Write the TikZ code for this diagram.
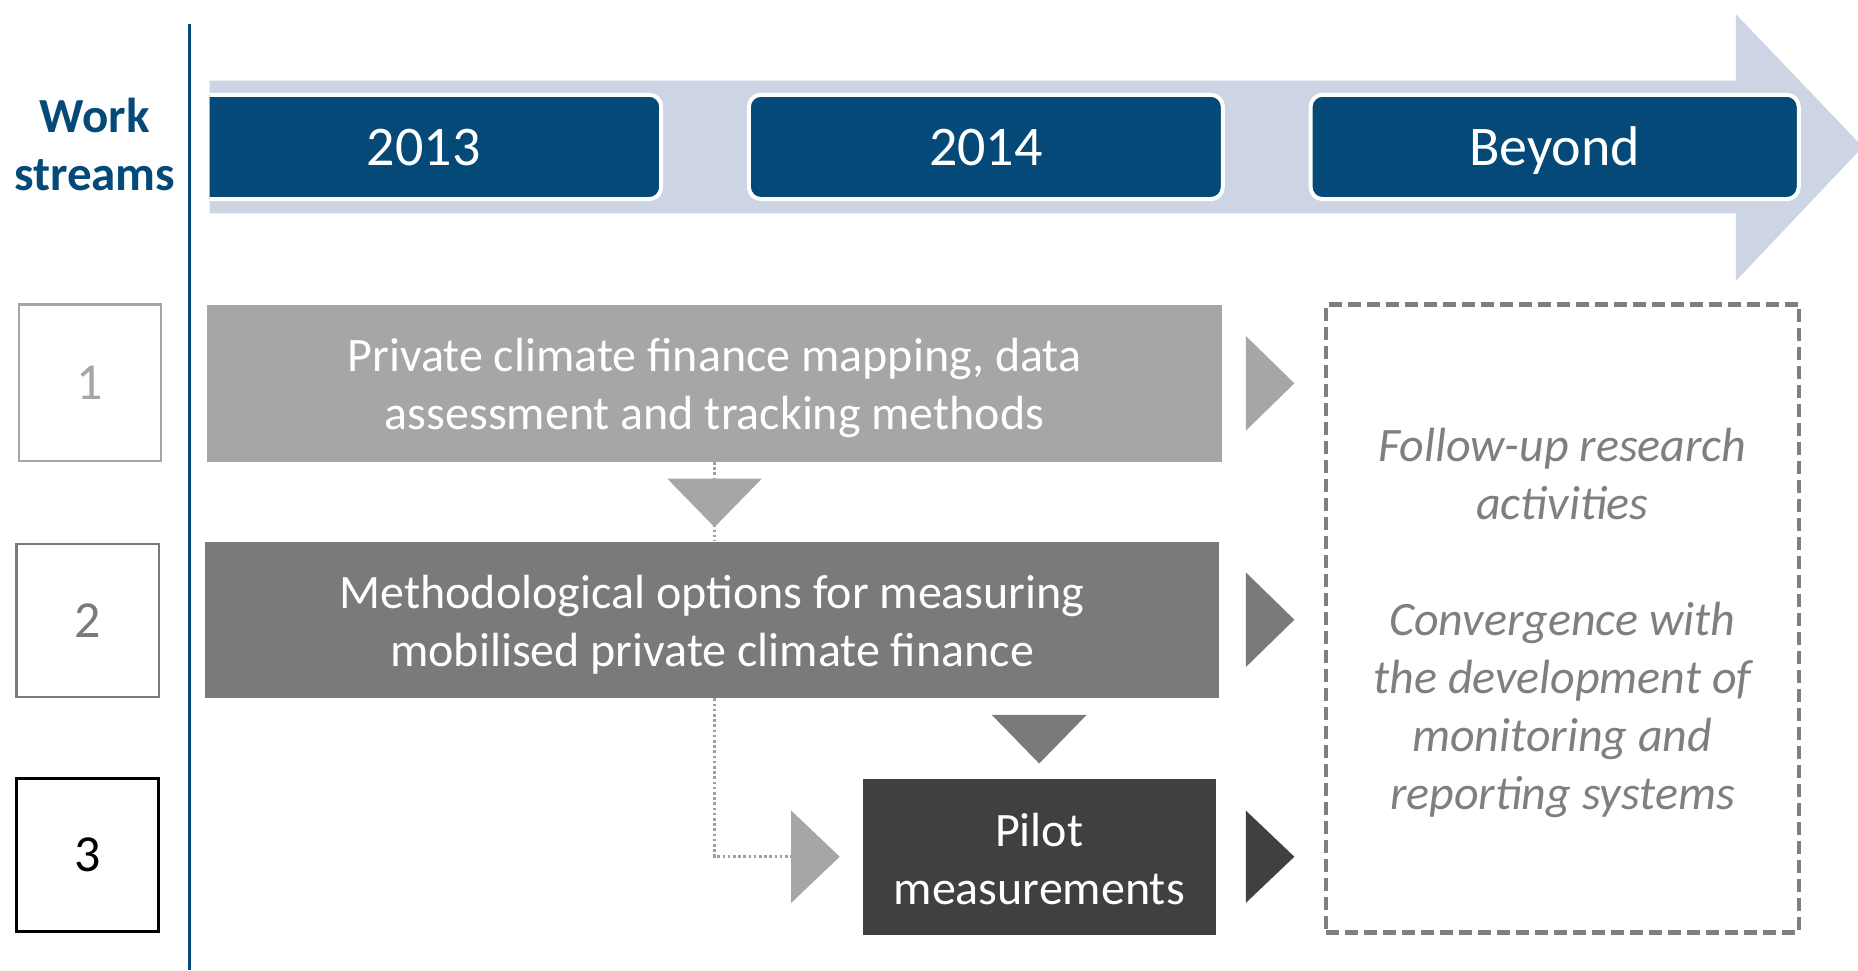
\documentclass[tikz,border=0pt]{standalone}
\usepackage{fontspec}
\setmainfont{Carlito}
\usetikzlibrary{calc}

\definecolor{navy}{RGB}{4,73,120}
\definecolor{arrowblue}{RGB}{205,213,228}
\definecolor{lightgrey}{RGB}{166,166,166}
\definecolor{midgrey}{RGB}{122,122,122}
\definecolor{darkgrey}{RGB}{64,64,64}
\definecolor{dashgrey}{RGB}{127,127,127}
\definecolor{dotgrey}{RGB}{160,160,160}

\def\U{0.5925pt}

\begin{document}
\begin{tikzpicture}[x=0.5925pt,y=-0.5925pt,
  yearbox/.style={draw=white, line width=2pt, fill=navy, rounded corners=6pt,
    inner sep=0pt, text=white, font=\fontsize{28}{34}\selectfont,
    text height=22pt, text depth=3pt, minimum height=88*\U},
  wsbox/.style={draw, line width=1.2pt, fill=white, inner sep=0pt,
    minimum width=120*\U, font=\fontsize{26}{31}\selectfont},
  bar/.style={inner sep=0pt, minimum height=132*\U},
  bartext/.style={inner sep=0pt, text=white, align=center,
    font=\fontsize{24}{29}\selectfont},
  dotline/.style={dotgrey, line width=1.3pt, dash pattern=on 1.3pt off 1.3pt},
  note/.style={draw=dashgrey, line width=2.2pt, dash pattern=on 6.5pt off 3pt,
    inner sep=0pt},
  notetext/.style={inner sep=0pt, text=dashgrey, align=center,
    font=\fontsize{24}{29}\selectfont\itshape}
]
\useasboundingbox (0,0) rectangle (1568,819);

% timeline arrow with the three periods
\begin{scope}
  \clip (177,0) rectangle (1568,819);
  \fill[arrowblue] (177,68) -- (1465,68) -- (1465,12) -- (1572,124)
    -- (1465,237) -- (1465,180) -- (177,180) -- cycle;
  \node[yearbox, minimum width=401*\U] (y13) at (357.5,124) {2013};
  \node[yearbox, minimum width=400*\U] (y14) at (832,124) {2014};
  \node[yearbox, minimum width=412*\U] (yb) at (1312,124) {Beyond};
\end{scope}

% left column
\node[text=navy, align=center, font=\fontsize{24.5}{29}\selectfont\bfseries]
  (ws) at (80,122) {Work\\streams};
\coordinate (ltop) at (160,20);
\coordinate (lbot) at (160,819);
\draw[navy, line width=1.5pt] (ltop) -- (lbot);

\node[wsbox, draw=lightgrey, text=lightgrey, minimum height=132*\U] (w1) at (76,323) {1};
\node[wsbox, draw=midgrey, text=midgrey, minimum height=129*\U] (w2) at (74,523.5) {2};
\node[wsbox, draw=black, text=black, line width=1.5pt, minimum height=129*\U] (w3) at (74,721.5) {3};

% work stream bars
\node[bar, fill=lightgrey, minimum width=856*\U] (b1) at (603,323.5) {};
\node[bar, fill=midgrey, minimum width=856*\U] (b2) at (601,523) {};
\node[bar, fill=darkgrey, minimum width=298*\U] (b3) at (877,723) {};
\node[bartext] (b1t) at ($(b1.center)+(0,4)$)
  {Private climate finance mapping, data\\assessment and tracking methods};
\node[bartext] (b2t) at ($(b2.center)+(0,4)$)
  {Methodological options for measuring\\mobilised private climate finance};
\node[bartext] (b3t) at ($(b3.center)+(0,2)$)
  {Pilot\\measurements};

% dotted links
\coordinate (t3base) at ($(b3.west)+(-60,0)$);
\draw[dotline] (b1.south) -- (b1.south |- b2.north);
\draw[dotline] (b1.south |- b2.south) -- (b1.south |- b3.west) -- (t3base);

% down-pointing triangles
\fill[lightgrey] ($(b1.south)+(-40,14)$) -- ($(b1.south)+(40,14)$)
  -- ($(b1.south)+(0,55)$) -- cycle;
\fill[midgrey] ($(b3.north |- b2.south)+(-40,14)$) -- ($(b3.north |- b2.south)+(40,14)$)
  -- ($(b3.north |- b2.south)+(0,55)$) -- cycle;

% right-pointing triangles
\fill[lightgrey] ($(t3base)+(0,-39)$) -- ($(t3base)+(41,0)$)
  -- ($(t3base)+(0,39)$) -- cycle;
\fill[lightgrey] ($(b1.east)+(20,-40)$) -- ($(b1.east)+(61,0)$)
  -- ($(b1.east)+(20,40)$) -- cycle;
\fill[midgrey] ($(b2.east)+(22,-40)$) -- ($(b2.east)+(63,0)$)
  -- ($(b2.east)+(22,40)$) -- cycle;
\fill[darkgrey] ($(b3.east)+(25,-39)$) -- ($(b3.east)+(66,0)$)
  -- ($(b3.east)+(25,39)$) -- cycle;

% follow-up box
\node[note, minimum width=399*\U, minimum height=530*\U] (fu) at (1318.5,522) {};
\node[notetext] (fut) at ($(fu.center)+(0,4)$)
  {Follow-up research\\activities\\[29pt]Convergence with\\the development of\\monitoring and\\reporting systems};
\end{tikzpicture}
\end{document}
